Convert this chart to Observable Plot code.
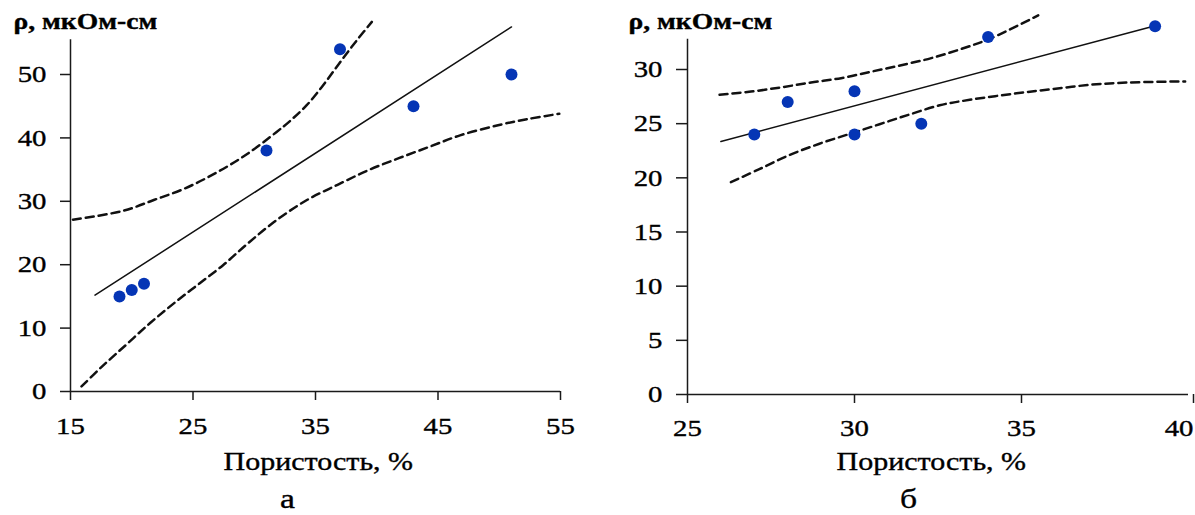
<!DOCTYPE html>
<html><head><meta charset="utf-8">
<script src="https://cdn.jsdelivr.net/npm/d3@7"></script>
<script src="https://cdn.jsdelivr.net/npm/@observablehq/plot@0.6"></script>
<style>
html,body{margin:0;padding:0;background:#fff;}
#wrap{position:relative;width:1195px;height:515px;overflow:hidden;background:#fff;}
#a{position:absolute;left:0;top:0;}
#b{position:absolute;left:600px;top:0;}
</style></head><body><div id="wrap"><div id="a"></div><div id="b"></div></div>
<script>
// ---- text ----
const yLabel = "ρ, мкОм-см";
const xLabel = "Пористость, %";
const panelLabels = ["а", "б"];

// ---- panel а ----
const aXTicks = [15, 25, 35, 45, 55];
const aYTicks = [0, 10, 20, 30, 40, 50];
const aPorosity = [19, 20, 21, 31, 37, 43, 51];
const aRho = [15, 16, 17, 38, 54, 45, 50];
const aFitX = [17, 51];
const aFitY = [15.2, 57.5];
const aUpperX = [15.2, 19.3, 21.8, 24.3, 26.8, 29.3, 31.8, 33.0, 34.3, 35.5, 36.5, 37.5, 38.5, 39.6];
const aUpperY = [27.1, 28.5, 30.2, 32.0, 34.4, 37.3, 40.9, 42.8, 45.2, 48.0, 50.6, 53.2, 55.7, 58.3];
const aLowerX = [15.9, 17.5, 19.5, 21.5, 23.5, 25.5, 27.5, 29.5, 31.8, 34.3, 36.8, 39.3, 41.8, 44.3, 46.8, 49.9, 52.4, 54.9];
const aLowerY = [0.8, 3.8, 7.3, 10.8, 14.0, 17.0, 20.0, 23.4, 27.0, 30.2, 32.6, 34.9, 36.8, 38.6, 40.4, 42.0, 43.0, 43.8];

// ---- panel б ----
const bXTicks = [25, 30, 35, 40];
const bYTicks = [0, 5, 10, 15, 20, 25, 30];
const bPorosity = [27, 28, 30, 30, 32, 34, 39];
const bRho = [24, 27, 28, 24, 25, 33, 34];
const bFitX = [26.0, 38.95];
const bFitY = [23.36, 34.0];
const bUpperX = [25.96, 26.9, 27.8, 28.7, 29.6, 30.5, 31.4, 32.3, 33.2, 34.1, 35.5];
const bUpperY = [27.66, 27.96, 28.35, 28.8, 29.2, 29.8, 30.4, 31.05, 31.9, 32.9, 35.0];
const bLowerX = [26.3, 27.15, 28.05, 28.95, 29.85, 30.75, 31.65, 32.55, 33.45, 34.85, 35.95, 37.1, 38.2, 39.9];
const bLowerY = [19.6, 20.8, 22.1, 23.15, 24.05, 24.95, 25.85, 26.7, 27.2, 27.8, 28.2, 28.6, 28.8, 28.9];

const zip = (xs, ys) => xs.map((x, i) => ({x, y: ys[i]}));

function panel(c) {
  const at = (px, py) => ({frameAnchor: "top-left", dx: px - c.ml, dy: py - c.mt});
  const axisColor = "#1a1a1a";
  const xt = c.lastEnd ? c.xt.slice(0, -1) : c.xt;
  const axisCommon = {tickSize: 9, tickPadding: c.xpad, fontSize: 24, label: null,
    stroke: axisColor, strokeWidth: 1.5, tickFormat: d => String(d)};
  return Plot.plot({
    width: c.w, height: 515,
    marginLeft: c.ml, marginRight: c.mr, marginTop: c.mt, marginBottom: c.mb,
    style: {fontFamily: "'Liberation Serif', 'Times New Roman', serif", background: "transparent", color: "#000", overflow: "visible"},
    x: {domain: c.xd},
    y: {domain: c.yd},
    marks: [
      Plot.ruleY([c.yd[0]], {x1: c.xd[0], x2: c.xd[1], stroke: axisColor, strokeWidth: 1.5}),
      Plot.ruleX([c.xd[0]], {y1: c.yd[0], y2: c.axisTop, stroke: axisColor, strokeWidth: 1.5}),
      Plot.axisX({ticks: xt, ...axisCommon}),
      c.lastEnd ? Plot.axisX({ticks: c.xt.slice(-1), ...axisCommon, textAnchor: "end", dx: 5}) : null,
      Plot.axisY({ticks: c.yt, tickSize: c.ytick, tickPadding: 14, fontSize: 24, label: null,
        stroke: axisColor, strokeWidth: 1.5, tickFormat: d => String(d)}),
      Plot.line(c.upper, {x: "x", y: "y", stroke: "#111", strokeWidth: 2.5, strokeDasharray: "8,5", curve: "catmull-rom"}),
      Plot.line(c.lower, {x: "x", y: "y", stroke: "#111", strokeWidth: 2.5, strokeDasharray: "8,5", curve: "catmull-rom"}),
      Plot.line(c.fit, {x: "x", y: "y", stroke: "#111", strokeWidth: 1.5}),
      Plot.dot(c.pts, {x: "x", y: "y", r: 6, fill: "#0535b5", stroke: "none"}),
      Plot.text([yLabel], {...at(c.ylx, 21.5), text: d => d, textAnchor: "start", lineAnchor: "middle", fontSize: 23, fontWeight: "bold", fill: "#000"}),
      Plot.text([xLabel], {...at(c.xlx, 461), text: d => d, textAnchor: "start", lineAnchor: "middle", fontSize: 25, fill: "#000"}),
      Plot.text([c.cap], {...at(c.capx, 499), text: d => d, textAnchor: "middle", lineAnchor: "middle", fontSize: 28, fill: "#000"})
    ]
  });
}

function stretch(svg, s) {
  svg.querySelectorAll("text").forEach(t => {
    const tr = t.getAttribute("transform") || "";
    const x = t.getAttribute("x"), y = t.getAttribute("y");
    let pre = "";
    if (x != null || y != null) {
      const yy = y != null && /em$/.test(y) ? null : y;
      pre = `translate(${+x || 0},${yy != null ? +yy : 0})`;
      t.removeAttribute("x");
      if (yy != null) t.removeAttribute("y");
    }
    t.setAttribute("transform", `${tr} ${pre} scale(${s},1)`);
    t.setAttribute("stroke", "#000");
    t.setAttribute("stroke-width", "0.35");
  });
}

const svgA = panel({
  w: 600, ml: 70, mr: 40, mt: 10.6, mb: 124,
  xd: [15, 55], yd: [0, 60], axisTop: 55.5,
  xt: aXTicks, yt: aYTicks, xpad: 16, ytick: 10,
  pts: zip(aPorosity, aRho), fit: zip(aFitX, aFitY),
  upper: zip(aUpperX, aUpperY), lower: zip(aLowerX, aLowerY),
  ylx: 13, xlx: 223, capx: 287, cap: panelLabels[0]
});
const svgB = panel({
  w: 595, ml: 87, mr: 7, mt: 4, mb: 121,
  xd: [25, 40], yd: [0, 36], axisTop: 32.8,
  xt: bXTicks, yt: bYTicks, xpad: 15, ytick: 11, lastEnd: true,
  pts: zip(bPorosity, bRho), fit: zip(bFitX, bFitY),
  upper: zip(bUpperX, bUpperY), lower: zip(bLowerX, bLowerY),
  ylx: 28, xlx: 236, capx: 308, cap: panelLabels[1]
});
stretch(svgA, 1.2);
stretch(svgB, 1.2);
document.getElementById("a").appendChild(svgA);
document.getElementById("b").appendChild(svgB);
</script>
</body></html>
